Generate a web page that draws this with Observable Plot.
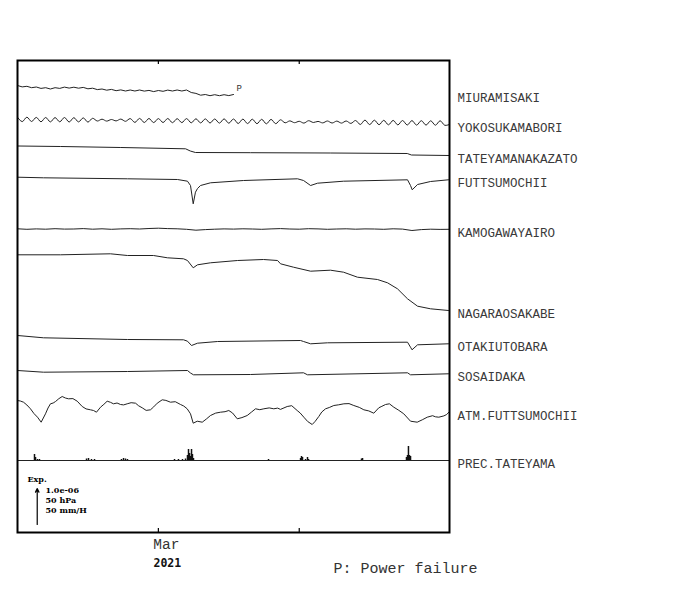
<!DOCTYPE html>
<html><head><meta charset="utf-8">
<script src="https://cdn.jsdelivr.net/npm/d3@7"></script>
<script src="https://cdn.jsdelivr.net/npm/@observablehq/plot@0.6"></script>
<style>body{margin:0;background:#fff}svg{display:block}</style>
</head><body><div id="chart"></div>
<script>
// ---- time frame ----
const startDate = Date.UTC(2021, 1, 14);
const endDate = Date.UTC(2021, 3, 1);
const tickDates = [Date.UTC(2021, 2, 1), Date.UTC(2021, 2, 16)];
const monthLabel = "Mar";
const yearLabel = "2021";

// ---- stations ----
const stationNames = ["MIURAMISAKI","YOKOSUKAMABORI","TATEYAMANAKAZATO","FUTTSUMOCHII","KAMOGAWAYAIRO","NAGARAOSAKABE","OTAKIUTOBARA","SOSAIDAKA","ATM.FUTTSUMOCHII","PREC.TATEYAMA"];

// ---- values (relative, up = positive; scale bar = 36 units) ----
// half-day samples
const miuraValues = [1.0,-0.4,0.2,-1.2,-0.5,-1.9,-1.2,-2.5,-1.2,-1.9,-0.6,-1.6,-0.7,-1.7,-0.9,-2.3,-1.7,-3.1,-2.5,-3.7,-2.9,-4.2,-3.4,-4.5,-3.5,-4.5,-3.5,-4.6,-3.9,-5.1,-4.0,-4.8,-3.6,-4.5,-3.5,-4.5,-3.5,-6.0,-6.9,-8.7,-8.0,-9.2,-8.2,-9.2,-8.2,-9.1,-8.0];
const yokoValues = [2.2,-2.1,2.3,-2.0,2.1,-2.3,2.0,-2.4,1.9,-2.3,2.0,-2.5,1.8,-2.4,1.6,-2.6,1.2,
  -1.5,0.3,-1.6,0.0,-1.4,0.4,-1.8,0.9,
  -2.9,1.1,-3.0,1.0,-3.1,0.9,-3.0,1.0,-3.2,0.8,-3.1,0.9,-3.3,0.7,-3.4,0.6,-3.5,0.5,-3.6,0.6,-3.7,0.5,
  -4.0,0.4,-4.1,0.3,-4.2,0.2,-4.3,0.1,-4.2,-0.3,
  -3.3,-1.4,-3.2,-1.8,-3.6,-1.2,-3.0,-1.9,-3.4,-1.5,-3.5,-1.6,-3.6,-1.5,-3.9,-1.0,
  -5.0,-0.6,-5.1,-0.7,-5.2,-0.8,-5.3,-0.9,-5.4,-1.0,-5.5,-1.1,-5.6,-1.2,-5.6,-1.3,-5.7,-1.3,-5.8,-5.0];
// daily samples
const kamoValues = [0.2,-0.3,0.1,-0.2,0.3,-0.1,0,0.4,-0.2,0.2,-0.3,0.1,0.3,0,0.5,0.8,0.4,0.2,-0.3,-1.2,-0.6,-0.2,0.1,-0.1,0.2,0,-0.3,0.1,0.4,0,-0.2,0.3,0.1,-0.3,0,0.2,-0.2,0.1,0,-0.3,0.2,-0.1,-1.5,-0.6,-0.2,-0.4,-0.3];
// irregular samples (days since Feb 14)
const tateDays = [0,4.6,11,17.9,18.4,18.95,24.8,33.3,41.5,41.95,45.95];
const tateValues = [0,-0.5,-1.5,-2.8,-5,-6.5,-6.7,-7,-7.5,-9,-9.5];
const futtDays = [0,2.77,11.71,17.04,18.10,18.42,18.71,18.95,19.17,19.49,20.55,24.07,29.82,30.46,31.21,31.95,34.72,41.53,41.85,42.03,42.60,43.98,45.89];
const futtValues = [0,-0.6,-1.6,-2.3,-4,-8.3,-26.6,-15,-11.3,-8.3,-5.6,-3.3,-1.6,-3.3,-8.3,-6,-4,-2.6,-8.3,-12.6,-7.3,-4.3,-2.6];
const nagaraDays = [0,4.58,9.90,11.71,14.48,15.97,17.68,18.10,18.71,19.17,20.55,23.43,26.20,27.69,28.01,29.39,31.21,33.33,34.72,36.20,38.33,39.40,40.46,41.53,42.60,43.98,45.89];
const nagaraValues = [0,0,1,-0.7,-0.7,-3,-4,-5.7,-13,-10,-8,-5.7,-4.7,-5.7,-9,-12.4,-16.4,-15.4,-17.4,-22.4,-24.7,-28,-34,-44,-51.4,-54,-55.7];
const otakiDays = [0,2.77,11.71,17.68,18.10,18.53,19.17,21.30,30.14,30.46,31.21,33.01,41.53,41.85,42.01,42.60,45.89];
const otakiValues = [0,-2.3,-4,-4.3,-5.7,-10,-7.7,-6,-5,-6,-8.3,-7.3,-6.7,-11.7,-14.3,-9.3,-8.3];
const sosaiDays = [0,2.77,11.71,18.10,18.42,18.74,24.81,30.46,30.88,41.53,41.85,45.89];
const sosaiValues = [0,-1.7,-1,0,-2.5,-4.3,-4,-2.3,-4.3,-2.3,-4.3,-3.3];
const atmDays = [0,0.3,0.64,1.0,1.38,1.75,2.13,2.52,2.98,3.25,3.51,3.8,4.05,4.4,4.76,5.1,5.43,5.9,6.36,6.89,7.3,7.77,8.1,8.41,8.84,9.2,9.55,9.9,10.22,10.6,10.97,11.3,11.68,12.1,12.57,12.9,13.28,13.7,14.16,14.5,14.88,15.41,15.8,16.29,16.8,17.36,17.7,18.07,18.42,18.71,19.14,19.67,20.1,20.55,21.1,21.62,22.1,22.5,22.9,23.4,23.9,24.46,24.9,25.35,25.8,26.23,26.8,27.29,27.7,28.0,28.72,29.2,29.78,30.1,30.49,30.9,31.38,31.7,32.08,32.4,32.8,33.2,33.68,34.2,34.75,35.3,35.81,36.4,36.88,37.4,37.94,38.47,38.8,39.19,39.6,40.07,40.6,41.13,41.85,42.56,43.1,43.63,44.2,44.5,44.86,45.4,45.7,45.93];
const atmValues = [0,-0.5,-1.7,-4.5,-8.3,-13.0,-16.7,-21.7,-13.3,-7.5,-3.3,-2.5,-1,1.8,4,2.5,1.7,1.9,-0.7,-6,-8.4,-9.3,-10.0,-11.7,-6.7,-3.8,-0.7,-1.8,-3.3,-2.5,-4,-4.4,-3.3,-2.2,-2.7,-5.3,-7.3,-9.9,-9.3,-6.4,-2.7,0.7,0.1,-1.7,-1.2,-4,-5.5,-8.3,-13.3,-22.7,-20.7,-21.7,-18.6,-15,-12.6,-11.7,-11.2,-10,-12.5,-18.3,-17.1,-15,-11.7,-8.3,-9.2,-8.3,-7.4,-8.3,-7.6,-8.9,-6,-5.2,-10,-12.5,-16.7,-21.0,-24,-20.8,-16,-11.5,-8.3,-7.0,-5,-4.3,-3.3,-3.1,-5,-6.9,-9.3,-10.4,-12.7,-7.3,-5.8,-4,-3.3,-6.7,-9.8,-13.3,-20.7,-21.7,-19.3,-16.7,-15.2,-16.3,-16.7,-15.4,-14.0,-11.7];
const precDays = [1.81,1.92,2.13,2.34,7.35,7.56,7.88,8.20,11.07,11.29,11.50,11.71,16.72,17.14,17.57,17.89,18.10,18.21,18.32,18.42,18.53,18.63,18.74,26.73,30.14,30.24,30.35,30.67,30.88,30.99,36.63,36.74,41.42,41.53,41.63,41.74,41.85];
const precValues = [6,3,1,1,1.5,2,1,1,1,2,1.5,1,1,1,1,1.5,5,11,7,4,11,6,2,1,2,4,3,1,3,1,1.5,2,3,5,14,5,4];
const scaleBar = 36;
const expText = "Exp.";
const scaleTexts = ["1.0e-06", "50 hPa", "50 mm/H"];
const powerMark = "P";
const noteText = "P: Power failure";

// ---- layout (trace baselines, in y units from the frame top) ----
const lanes = [26, 59, 85.5, 116.7, 168.5, 194.3, 275, 310, 340, 400];

const half = n => d3.range(n).map(i => i * 0.5);
const daily = n => d3.range(n);
const dayLists = [half(miuraValues.length), half(yokoValues.length), tateDays, futtDays, daily(kamoValues.length), nagaraDays, otakiDays, sosaiDays, atmDays];
const valueLists = [miuraValues, yokoValues, tateValues, futtValues, kamoValues, nagaraValues, otakiValues, sosaiValues, atmValues];
const toDate = d => new Date(startDate + d * 864e5);

const rows = [];
const labels = [];
dayLists.forEach((days, k) => {
  const vals = valueLists[k];
  const n = Math.min(days.length, vals.length);
  for (let i = 0; i < n; i++) rows.push({station: stationNames[k], date: toDate(days[i]), y: lanes[k] - vals[i]});
  labels.push({name: stationNames[k], y: lanes[k] - vals[n - 1]});
});
labels.push({name: stationNames[9], y: lanes[9]});
const precRows = precDays.map((d, i) => ({date: toDate(d), y1: lanes[9], y2: lanes[9] - precValues[i]}));
const miuraEnd = rows.filter(r => r.station === stationNames[0]).at(-1);
const wavy = new Set([stationNames[1]]);

const mono = "Liberation Mono";
const small = {frameAnchor: "bottom-left", textAnchor: "start", lineAnchor: "bottom", fontFamily: "DejaVu Serif", fontWeight: "bold", fontSize: 8, fill: "#000"};
const chart = Plot.plot({
  width: 700, height: 590,
  marginLeft: 17, marginRight: 251, marginTop: 60, marginBottom: 58,
  x: {type: "utc", domain: [new Date(startDate), new Date(endDate)], axis: null},
  y: {domain: [0, 472], reverse: true, axis: null},
  style: {background: "#fff"},
  marks: [
    Plot.ruleY([lanes[9]], {stroke: "#222", strokeWidth: 1.2}),
    Plot.ruleX(precRows, {x: "date", y1: "y1", y2: "y2", stroke: "#111", strokeWidth: 1.5}),
    Plot.line(rows.filter(r => !wavy.has(r.station)), {x: "date", y: "y", z: "station", stroke: "#222", strokeWidth: 1}),
    Plot.line(rows.filter(r => wavy.has(r.station)), {x: "date", y: "y", z: "station", stroke: "#222", strokeWidth: 1, curve: "catmull-rom"}),
    Plot.frame({stroke: "#000", strokeWidth: 2}),
    Plot.ruleX(tickDates, {x: d => new Date(d), y1: 0, y2: 4, stroke: "#000", strokeWidth: 1.2}),
    Plot.ruleX(tickDates, {x: d => new Date(d), y1: 468, y2: 472, stroke: "#000", strokeWidth: 1.2}),
    Plot.text(labels, {x: () => new Date(endDate), y: "y", text: "name", textAnchor: "start", lineAnchor: "middle", dx: 8, dy: 3.5, fontFamily: mono, fontSize: 12.5, fill: "#3a3a3a"}),
    Plot.text([miuraEnd], {x: "date", y: "y", text: () => powerMark, textAnchor: "start", lineAnchor: "bottom", dx: 3, dy: -4, fontFamily: mono, fontSize: 9, fill: "#333"}),
    Plot.text([tickDates[0]], {x: d => new Date(d), frameAnchor: "bottom", text: () => monthLabel, textAnchor: "middle", lineAnchor: "bottom", dx: 8, dy: 16, fontFamily: mono, fontSize: 14.5, fill: "#333"}),
    Plot.text([tickDates[0]], {x: d => new Date(d), frameAnchor: "bottom", text: () => yearLabel, textAnchor: "middle", lineAnchor: "bottom", dx: 9, dy: 34, fontFamily: "DejaVu Sans Mono", fontWeight: "bold", fontSize: 11.5, fill: "#111"}),
    Plot.text([noteText], {frameAnchor: "bottom-right", text: d => d, textAnchor: "middle", lineAnchor: "bottom", dx: -44, dy: 40, fontFamily: mono, fontSize: 15, fill: "#333"}),
    Plot.arrow([scaleBar], {x1: () => toDate(2.1), x2: () => toDate(2.1), y1: 464, y2: d => 464 - d, stroke: "#000", strokeWidth: 1.2, headLength: 5, headAngle: 50}),
    Plot.text([expText], {...small, text: d => d, dx: 10, dy: -51}),
    Plot.text([scaleTexts[0]], {...small, text: d => d, dx: 28, dy: -40}),
    Plot.text([scaleTexts[1]], {...small, text: d => d, dx: 28, dy: -30}),
    Plot.text([scaleTexts[2]], {...small, text: d => d, dx: 28, dy: -20})
  ]
});
document.getElementById("chart").append(chart);
</script>
</body></html>
